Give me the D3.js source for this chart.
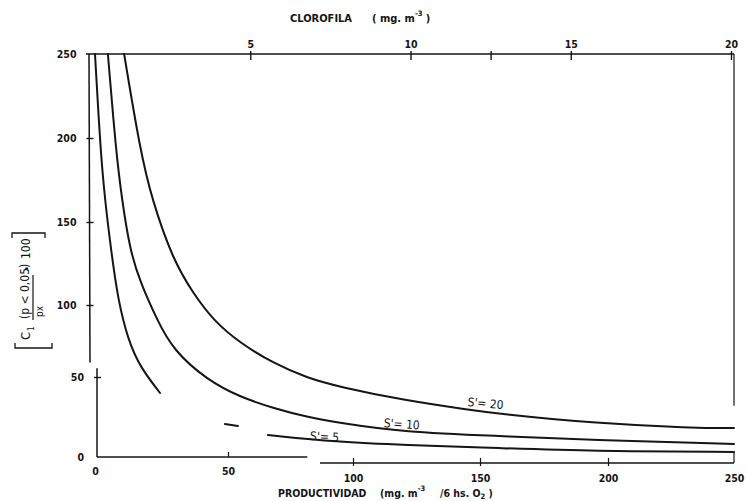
<!DOCTYPE html>
<html><head><meta charset="utf-8">
<script src="https://cdn.jsdelivr.net/npm/d3@7"></script>
<style>
body{margin:0;background:#fff;}
text{font-family:"DejaVu Sans Condensed","DejaVu Sans",sans-serif;fill:#151515;}
</style></head><body>
<svg id="chart" width="746" height="501"></svg>
<script>
// ---- data ----
const prodTicks = [0, 50, 100, 150, 200, 250];
const valueTicks = [0, 50, 100, 150, 200, 250];
const chlTicks = [5, 10, 12.5, 15, 20];
const chlTickLabels = ["5", "10", "", "15", "20"];
const seriesNames = ["S'= 5", "S'= 10", "S'= 20"];
const s5Prod = [0.75, 2.8, 4.5, 6.8, 9.4, 13.2, 17.7, 25.2, 37, 49.6, 54.7, 60, 66.5, 93.7, 119.7, 157.8, 193, 250];
const s5Val  = [250, 192.9, 163.1, 133.1, 103, 75.7, 56.9, 40, null, 20.6, 19.4, null, 13.75, 9.4, 7.5, 5.6, 3.75, 3.1];
const s10Prod = [5.6, 8.6, 10.9, 13.9, 17.7, 24.1, 30.1, 42.9, 55.5, 68.5, 81.9, 94.9, 119.7, 157.8, 193, 250];
const s10Val  = [250, 192.9, 163.1, 133.1, 113.9, 89.6, 68.75, 48.1, 37.5, 30.6, 25, 21.25, 15.6, 13.1, 10.6, 8.1];
const s20Prod = [11.7, 17.7, 22.2, 30.1, 37.6, 45.1, 55.5, 68.5, 81.9, 94.9, 119.7, 146.1, 157.8, 193, 233.6, 250];
const s20Val  = [250, 192.9, 163.1, 127.1, 107.2, 89.6, 73.6, 59.7, 49.4, 43.75, 35.6, 29.4, 26.9, 21.25, 18.1, 18.1];
const labelProd = [83, 112, 145];
const labelVal = [10.6, 18.75, 31.9];

// ---- drawing ----
const svg = d3.select("#chart");
const ink = "#151515";
// scanned figure: slightly non-uniform axes, kept via polylinear scales
const x = d3.scaleLinear().domain(prodTicks).range([93, 226, 353, 480, 608, 734]);
const y = d3.scaleLinear().domain(valueTicks).range([457, 377, 305, 222, 138, 54]);
const xTop = d3.scaleLinear().domain([0, 20]).range([90, 731]);

function seg(x1, y1, x2, y2, w) {
  svg.append("line").attr("x1", x1).attr("y1", y1).attr("x2", x2).attr("y2", y2)
    .attr("stroke", ink).attr("stroke-width", w || 1.5);
}
const tickFont = g => g.selectAll("text").attr("font-size", 10.5).attr("font-weight", "bold")
  .attr("fill", ink).attr("font-family", '"DejaVu Sans Condensed","DejaVu Sans",sans-serif');

// top axis (chlorophyll)
seg(86, y(250), x(250), y(250));
svg.append("g").attr("transform", `translate(0,${y(250)})`)
  .call(d3.axisTop(xTop).tickValues(chlTicks).tickFormat((d, i) => chlTickLabels[i]).tickSize(-6).tickPadding(6))
  .call(g => g.select(".domain").remove())
  .call(g => g.selectAll(".tick line").attr("y1", -3).attr("stroke", ink).attr("stroke-width", 1.4))
  .call(tickFont);

// left axis, upper piece
seg(89, y(250), 90, y(60));
svg.append("g").attr("transform", "translate(89.5,0)")
  .call(d3.axisLeft(y).tickValues([100, 150, 200, 250]).tickSize(3).tickPadding(10))
  .call(g => g.select(".domain").remove())
  .call(g => g.selectAll(".tick line").attr("x1", 4).attr("stroke", ink).attr("stroke-width", 1.4)
    .attr("opacity", d => d === 250 ? 0 : 1))
  .call(tickFont);

// left axis, lower piece
seg(97, y(56), 97, y(0));
svg.append("g").attr("transform", "translate(97,0)")
  .call(d3.axisLeft(y).tickValues([0, 50]).tickSize(3).tickPadding(10))
  .call(g => g.select(".domain").remove())
  .call(g => g.selectAll(".tick line").attr("x1", 4).attr("stroke", ink).attr("stroke-width", 1.4)
    .attr("opacity", d => d === 0 ? 0 : 1))
  .call(tickFont);

// bottom axis, left piece
seg(97, y(0), x(82), y(0));
svg.append("g").attr("transform", `translate(2,${y(0)})`)
  .call(d3.axisBottom(x).tickValues([0, 50]).tickSize(-5).tickPadding(11))
  .call(g => g.select(".domain").remove())
  .call(g => g.selectAll(".tick line").attr("stroke", ink).attr("stroke-width", 1.2)
    .attr("opacity", d => d === 0 ? 0 : 1))
  .call(tickFont);

// bottom axis, right piece
const yb = y(0) + 6;
seg(x(87), yb, x(250), yb);
svg.append("g").attr("transform", `translate(0,${yb})`)
  .call(d3.axisBottom(x).tickValues([100, 150, 200, 250]).tickSize(3).tickPadding(9))
  .call(g => g.select(".domain").remove())
  .call(g => g.selectAll(".tick line").attr("y1", -5).attr("stroke", ink).attr("stroke-width", 1.2)
    .attr("opacity", d => d === 250 ? 0 : 1))
  .call(tickFont);

// right border pieces
seg(x(250), y(250), x(250), y(32), 1.2);
seg(x(250), y(3.1), x(250), yb, 1.2);

// curves
const series = [
  {prod: s5Prod, val: s5Val},
  {prod: s10Prod, val: s10Val},
  {prod: s20Prod, val: s20Val}
];
const line = d3.line()
  .defined(d => d.v !== null)
  .x(d => x(d.p)).y(d => y(d.v))
  .curve(d3.curveBasis);
series.forEach(s => {
  const pts = s.prod.map((p, i) => ({p: p, v: s.val[i]}));
  svg.append("path").attr("d", line(pts)).attr("fill", "none")
    .attr("stroke", ink).attr("stroke-width", 2).attr("stroke-linecap", "round");
});

// curve labels
const rot = [3, 4, 5];
seriesNames.forEach((n, i) => {
  const lx = x(labelProd[i]), ly = y(labelVal[i]);
  svg.append("text").attr("transform", `translate(${lx},${ly}) rotate(${rot[i]})`)
    .attr("font-size", 12).text(n);
});

// top title
const tt = svg.append("text").attr("x", 290).attr("y", 22).attr("font-size", 11).attr("font-weight", "bold");
tt.append("tspan").text("CLOROFILA");
tt.append("tspan").attr("x", 372).text("( mg.  m");
tt.append("tspan").attr("font-size", 7.5).attr("dy", -6).text("-3");
tt.append("tspan").attr("dy", 6).text("  )");

// bottom title
const bt = svg.append("text").attr("x", 278).attr("y", 497).attr("font-size", 10.5).attr("font-weight", "bold");
bt.append("tspan").text("PRODUCTIVIDAD");
bt.append("tspan").attr("x", 380).text("(mg. m");
bt.append("tspan").attr("font-size", 7.5).attr("dy", -6).text("-3");
bt.append("tspan").attr("x", 440).attr("dy", 6).text("/6  hs.  O");
bt.append("tspan").attr("font-size", 7.5).attr("dy", 2).text("2");
bt.append("tspan").attr("dy", -2).text("  )");

// y title (rotated)
const yt = svg.append("g").attr("transform", "translate(28,291) rotate(-90)");
yt.append("path").attr("d", "M -52,-13 L -57,-13 L -57,24 L -52,24")
  .attr("fill", "none").attr("stroke", ink).attr("stroke-width", 1.3);
yt.append("path").attr("d", "M 53,-16 L 58,-16 L 58,17 L 53,17")
  .attr("fill", "none").attr("stroke", ink).attr("stroke-width", 1.3);
yt.append("text").attr("x", -49).attr("y", 2).attr("font-size", 13).text("C");
yt.append("text").attr("x", -40).attr("y", 6).attr("font-size", 8).text("1");
yt.append("text").attr("x", -28).attr("y", 1).attr("font-size", 12).text("(p < 0,05)");
yt.append("line").attr("x1", -29).attr("x2", 16).attr("y1", 5).attr("y2", 5)
  .attr("stroke", ink).attr("stroke-width", 1.2);
yt.append("text").attr("x", -26).attr("y", 15).attr("font-size", 10).text("px");
yt.append("text").attr("x", 20).attr("y", 4).attr("font-size", 14).attr("font-weight", "bold").text("·");
yt.append("text").attr("x", 32).attr("y", 2).attr("font-size", 12).text("100");
</script>
</body></html>
